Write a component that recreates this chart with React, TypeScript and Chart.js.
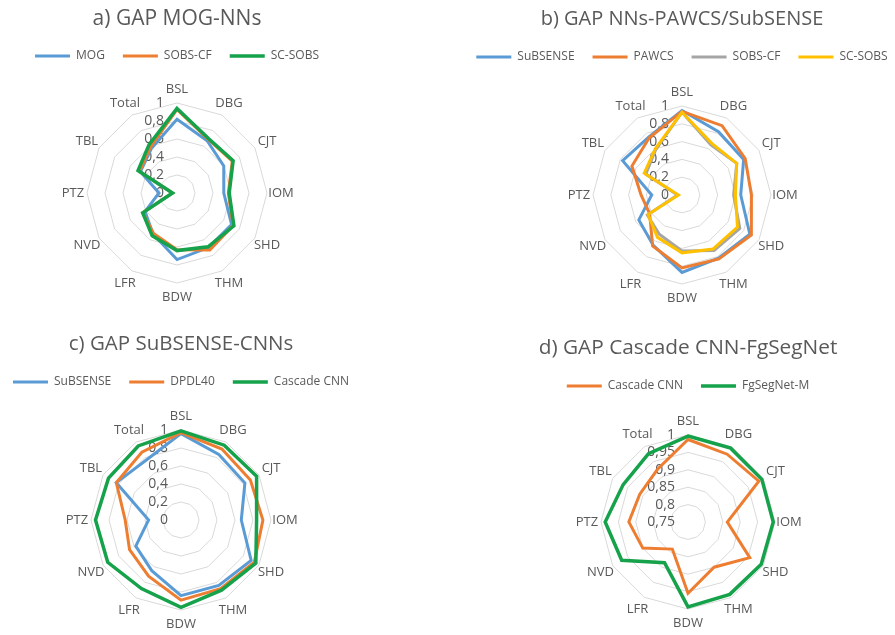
import React, { useEffect, useRef } from 'react';
import { Chart, registerables } from 'chart.js';

Chart.register(...registerables);
Chart.defaults.font.family = "'Open Sans', sans-serif";

// ---------- data ----------
const categories = ['BSL', 'DBG', 'CJT', 'IOM', 'SHD', 'THM', 'BDW', 'LFR', 'NVD', 'PTZ', 'TBL', 'Total'];

const unitTickValues = [0, 0.2, 0.4, 0.6, 0.8, 1];
const unitTickLabels = ['0', '0,2', '0,4', '0,6', '0,8', '1'];
const fineTickValues = [0.75, 0.8, 0.85, 0.9, 0.95, 1];
const fineTickLabels = ['0,75', '0,8', '0,85', '0,9', '0,95', '1'];

const titleA = 'a) GAP MOG-NNs';
const titleB = 'b) GAP NNs-PAWCS/SubSENSE';
const titleC = 'c) GAP SuBSENSE-CNNs';
const titleD = 'd) GAP Cascade CNN-FgSegNet';

// panel a
const aMOG = [0.82, 0.67, 0.6, 0.52, 0.7, 0.7, 0.74, 0.53, 0.41, 0.2, 0.47, 0.57];
const aSOBSCF = [0.93, 0.69, 0.71, 0.57, 0.72, 0.73, 0.63, 0.52, 0.44, 0.05, 0.48, 0.59];
const aSCSOBS = [0.94, 0.7, 0.72, 0.58, 0.73, 0.69, 0.64, 0.55, 0.44, 0.05, 0.5, 0.62];

// panel b
const bSuBSENSE = [0.95, 0.82, 0.8, 0.66, 0.88, 0.82, 0.87, 0.65, 0.56, 0.34, 0.77, 0.75];
const bPAWCS = [0.94, 0.9, 0.82, 0.78, 0.9, 0.83, 0.82, 0.66, 0.42, 0.46, 0.65, 0.74];
const bSOBSCF = [0.93, 0.65, 0.71, 0.58, 0.75, 0.72, 0.63, 0.51, 0.45, 0.05, 0.47, 0.59];
const bSCSOBS = [0.93, 0.67, 0.71, 0.6, 0.72, 0.7, 0.65, 0.55, 0.44, 0.04, 0.49, 0.6];

// panel c
const cSuBSENSE = [0.96, 0.84, 0.82, 0.67, 0.9, 0.84, 0.84, 0.65, 0.58, 0.36, 0.83, 0.77];
const cDPDL40 = [0.97, 0.91, 0.89, 0.91, 0.94, 0.88, 0.89, 0.72, 0.66, 0.62, 0.83, 0.87];
const cCascade = [0.99, 0.96, 0.97, 0.84, 0.96, 0.9, 0.97, 0.88, 0.94, 0.95, 0.93, 0.95];

// panel d
const dCascade = [0.987, 0.975, 0.985, 0.863, 0.955, 0.9, 0.955, 0.84, 0.9, 0.92, 0.91, 0.925];
const dFgSegNet = [0.997, 0.995, 0.995, 0.995, 0.993, 0.99, 0.994, 0.885, 0.97, 0.988, 0.965, 0.977];

// ---------- styling ----------
const BLUE = '#5B9BD5';
const ORANGE = '#ED7D31';
const GRAY = '#A5A5A5';
const YELLOW = '#FFC000';
const GREEN = '#15A24A';
const TEXT = '#595959';

type Series = { label: string; data: number[]; color: string; width: number };
type Panel = {
  title: string;
  titleSize: number;
  series: Series[];
  min: number;
  max: number;
  step: number;
  tickValues: number[];
  tickLabels: string[];
  x: number; y: number; w: number; h: number;
  ty: number; ly: number; cy: number; R: number;
};

const panels: Panel[] = [
  {
    title: titleA, titleSize: 21,
    series: [
      { label: 'MOG', data: aMOG, color: BLUE, width: 3 },
      { label: 'SOBS-CF', data: aSOBSCF, color: ORANGE, width: 3 },
      { label: 'SC-SOBS', data: aSCSOBS, color: GREEN, width: 3.5 },
    ],
    min: 0, max: 1, step: 0.2, tickValues: unitTickValues, tickLabels: unitTickLabels,
    x: -40, y: 0, w: 434, h: 317, ty: 19, ly: 56, cy: 193.5, R: 90,
  },
  {
    title: titleB, titleSize: 20,
    series: [
      { label: 'SuBSENSE', data: bSuBSENSE, color: BLUE, width: 3 },
      { label: 'PAWCS', data: bPAWCS, color: ORANGE, width: 3 },
      { label: 'SOBS-CF', data: bSOBSCF, color: GRAY, width: 3 },
      { label: 'SC-SOBS', data: bSCSOBS, color: YELLOW, width: 3 },
    ],
    min: 0, max: 1, step: 0.2, tickValues: unitTickValues, tickLabels: unitTickLabels,
    x: 442, y: 0, w: 480, h: 317, ty: 19, ly: 57, cy: 195.5, R: 89,
  },
  {
    title: titleC, titleSize: 20.5,
    series: [
      { label: 'SuBSENSE', data: cSuBSENSE, color: BLUE, width: 3 },
      { label: 'DPDL40', data: cDPDL40, color: ORANGE, width: 3 },
      { label: 'Cascade CNN', data: cCascade, color: GREEN, width: 3.5 },
    ],
    min: 0, max: 1, step: 0.2, tickValues: unitTickValues, tickLabels: unitTickLabels,
    x: -39, y: 317, w: 440, h: 318, ty: 27, ly: 65, cy: 203.5, R: 90,
  },
  {
    title: titleD, titleSize: 20.8,
    series: [
      { label: 'Cascade CNN', data: dCascade, color: ORANGE, width: 3 },
      { label: 'FgSegNet-M', data: dFgSegNet, color: GREEN, width: 3.5 },
    ],
    min: 0.75, max: 1, step: 0.05, tickValues: fineTickValues, tickLabels: fineTickLabels,
    x: 468, y: 317, w: 440, h: 318, ty: 31, ly: 69, cy: 205.5, R: 87,
  },
];

// Excel-like tick labels (left of the vertical axis) and category labels (centred around the ring)
const excelLabelsPlugin = {
  id: 'excelLabels',
  beforeDatasetsDraw(chart: any, _args: any, opts: any) {
    const s = chart.scales.r;
    const ctx = chart.ctx;
    ctx.save();
    ctx.fillStyle = TEXT;
    ctx.font = "13px 'Open Sans', sans-serif";
    ctx.textAlign = 'center';
    ctx.textBaseline = 'middle';
    const labels: string[] = chart.data.labels;
    labels.forEach((lab, i) => {
      const pos = s.getPointPosition(i, s.drawingArea + 14);
      ctx.fillText(lab, pos.x, pos.y);
    });
    ctx.font = "14px 'Open Sans', sans-serif";
    ctx.textAlign = 'right';
    (opts.values as number[]).forEach((v, i) => {
      const d = s.getDistanceFromCenterForValue(v);
      ctx.fillText(opts.labels[i], s.xCenter - 13, s.yCenter - d);
    });
    ctx.restore();
  },
};

function RadarPanel({ p }: { p: Panel }) {
  const ref = useRef<HTMLCanvasElement>(null);
  useEffect(() => {
    if (!ref.current) return;
    const n = p.series.length;
    const titleLH = p.titleSize * 1.2;
    const titleTop = p.ty - titleLH / 2;
    const legendTop = p.ly - 24;
    const titleBottom = Math.max(0, legendTop - titleTop - titleLH);
    const legendBottom = legendTop + 40;
    const spacer = Math.max(0, p.cy - p.R - legendBottom - 1.2);
    const bottomPad = Math.max(0, p.h - (p.cy + p.R));
    const chart = new Chart(ref.current, {
      type: 'radar',
      data: {
        labels: categories,
        datasets: p.series.map((s, i) => ({
          label: s.label,
          data: s.data,
          borderColor: s.color,
          backgroundColor: s.color,
          borderWidth: s.width,
          pointRadius: 0,
          pointHoverRadius: 0,
          fill: false,
          tension: 0,
          order: n - i,
        })),
      },
      options: {
        responsive: false,
        animation: false,
        devicePixelRatio: 1,
        layout: { padding: { bottom: bottomPad } },
        plugins: {
          title: {
            display: true,
            text: p.title,
            color: TEXT,
            font: { size: p.titleSize, weight: 'normal' },
            padding: { top: titleTop, bottom: titleBottom },
          },
          subtitle: {
            display: true,
            text: ' ',
            weight: 500,
            font: { size: 1 },
            padding: { top: spacer, bottom: 0 },
          },
          legend: {
            position: 'top',
            labels: {
              usePointStyle: true,
              pointStyle: 'line',
              pointStyleWidth: 35,
              color: TEXT,
              font: { size: 12 },
              padding: 18,
              sort: (a: any, b: any) => a.datasetIndex - b.datasetIndex,
            },
          },
          tooltip: { enabled: false },
          excelLabels: { values: p.tickValues, labels: p.tickLabels },
        } as any,
        scales: {
          r: {
            min: p.min,
            max: p.max,
            ticks: { display: false, stepSize: p.step },
            grid: { color: '#D9D9D9', lineWidth: 1, circular: false },
            angleLines: { display: false },
            pointLabels: { display: false },
          },
        },
      } as any,
      plugins: [excelLabelsPlugin],
    });
    return () => chart.destroy();
  }, []);
  return (
    <canvas
      ref={ref}
      width={p.w}
      height={p.h}
      style={{ position: 'absolute', left: p.x, top: p.y, width: p.w, height: p.h }}
    />
  );
}

export default function App() {
  return (
    <div
      style={{
        position: 'fixed', left: 0, top: 0, width: 895, height: 635,
        overflow: 'hidden', background: '#ffffff',
      }}
    >
      {panels.map((p, i) => (
        <RadarPanel key={i} p={p} />
      ))}
    </div>
  );
}
